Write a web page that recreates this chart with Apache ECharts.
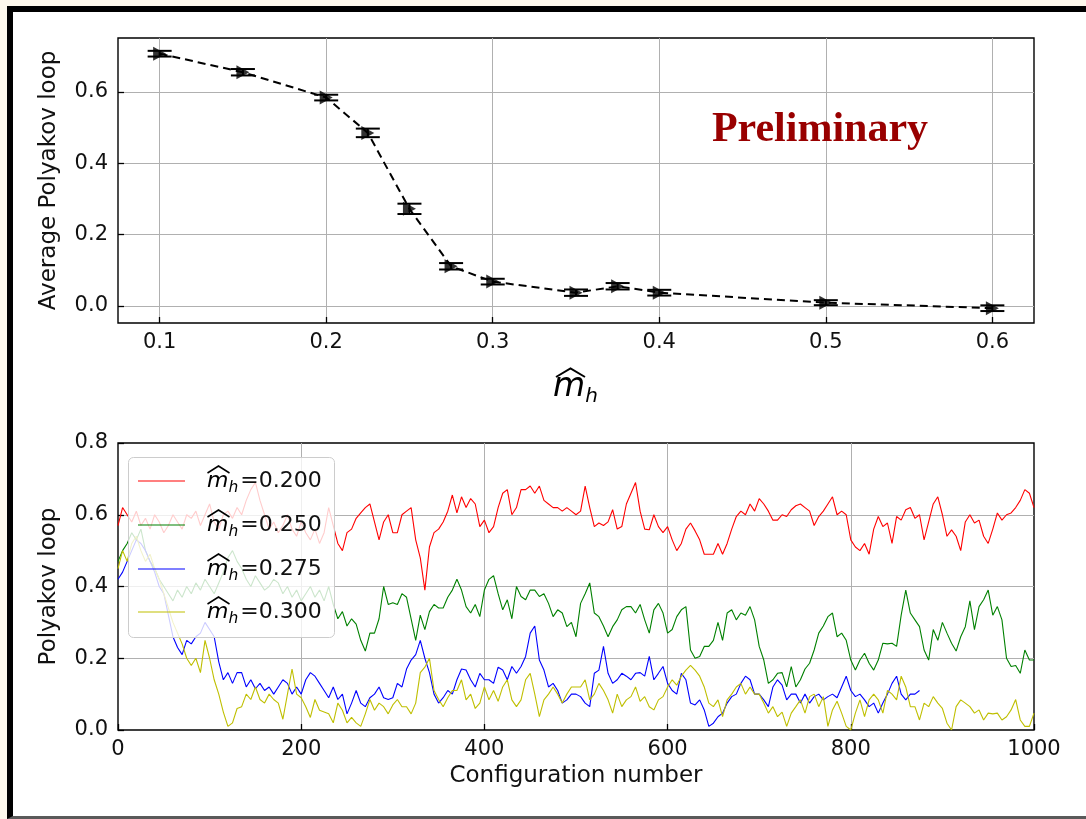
<!DOCTYPE html>
<html>
<head>
<meta charset="utf-8">
<script src="https://cdn.jsdelivr.net/npm/echarts@6/dist/echarts.min.js"></script>
<style>
  html, body { margin: 0; padding: 0; width: 1086px; height: 819px; overflow: hidden; background: #fdf8ec; }
  #frame { position: absolute; left: 7px; top: 6px; width: 1100px; height: 804px;
           border-left: 6px solid #000; border-top: 6px solid #000; border-bottom: 3px solid #5a5a5a; background: #fff; }
  #chart { position: absolute; left: 0; top: 0; width: 1086px; height: 819px; }
</style>
</head>
<body>
<div id="frame"></div>
<div id="chart"></div>
<script>
// ---- top panel: average Polyakov loop versus the Higgs mass parameter ----
const massValues = [0.1, 0.15, 0.2, 0.225, 0.25, 0.275, 0.3, 0.35, 0.375, 0.4, 0.5, 0.6];
const avgLoop    = [0.707, 0.655, 0.584, 0.485, 0.272, 0.111, 0.068, 0.037, 0.055, 0.037, 0.009, -0.0065];
const avgLoopErr = [0.008, 0.009, 0.008, 0.012, 0.0145, 0.009, 0.008, 0.009, 0.009, 0.008, 0.007, 0.008];

// ---- bottom panel: Monte Carlo histories, one value every configStep configurations ----
const configStep = 5;
const loopM200 = [
  0.57, 0.62, 0.60, 0.58, 0.61, 0.57, 0.59, 0.56, 0.60, 0.58,
  0.55, 0.57, 0.60, 0.58, 0.56, 0.60, 0.59, 0.61, 0.57, 0.60,
  0.63, 0.58, 0.56, 0.60, 0.61, 0.59, 0.62, 0.60, 0.64, 0.67,
  0.69, 0.64, 0.60, 0.56, 0.58, 0.55, 0.57, 0.60, 0.56, 0.54,
  0.58, 0.55, 0.53, 0.56, 0.52, 0.55, 0.62, 0.57, 0.52, 0.50,
  0.55, 0.56, 0.59, 0.605, 0.62, 0.63, 0.58, 0.53, 0.58, 0.60,
  0.55, 0.55, 0.60, 0.61, 0.62, 0.53, 0.48, 0.39, 0.51, 0.55,
  0.56, 0.58, 0.61, 0.655, 0.605, 0.65, 0.62, 0.645, 0.63, 0.567,
  0.585, 0.55, 0.567, 0.62, 0.66, 0.67, 0.60, 0.62, 0.67, 0.67,
  0.68, 0.66, 0.68, 0.64, 0.63, 0.62, 0.62, 0.61, 0.62, 0.61,
  0.60, 0.61, 0.68, 0.62, 0.567, 0.577, 0.57, 0.58, 0.614, 0.56,
  0.567, 0.63, 0.66, 0.69, 0.61, 0.56, 0.558, 0.60, 0.567, 0.55,
  0.567, 0.53, 0.50, 0.52, 0.56, 0.577, 0.555, 0.53, 0.49, 0.49,
  0.49, 0.52, 0.49, 0.52, 0.56, 0.595, 0.61, 0.60, 0.63, 0.61,
  0.645, 0.63, 0.61, 0.585, 0.585, 0.60, 0.595, 0.614, 0.625, 0.63,
  0.62, 0.61, 0.57, 0.595, 0.61, 0.63, 0.65, 0.60, 0.61, 0.60,
  0.53, 0.51, 0.50, 0.52, 0.49, 0.56, 0.595, 0.567, 0.577, 0.52,
  0.595, 0.585, 0.614, 0.62, 0.59, 0.60, 0.53, 0.58, 0.63, 0.65,
  0.60, 0.54, 0.558, 0.54, 0.50, 0.58, 0.60, 0.577, 0.585, 0.54,
  0.52, 0.56, 0.605, 0.585, 0.60, 0.605, 0.62, 0.64, 0.67, 0.66, 0.62
];
const loopM250 = [
  0.47, 0.50, 0.52, 0.55, 0.53, 0.56, 0.50, 0.47, 0.45, 0.42,
  0.40, 0.38, 0.36, 0.39, 0.37, 0.40, 0.38, 0.41, 0.39, 0.42,
  0.40, 0.38, 0.41, 0.44, 0.48, 0.50, 0.47, 0.45, 0.42, 0.40,
  0.43, 0.41, 0.39, 0.40, 0.42, 0.41, 0.38, 0.40, 0.37, 0.39,
  0.36, 0.38, 0.40, 0.37, 0.39, 0.36, 0.40, 0.35, 0.31, 0.33,
  0.29, 0.31, 0.295, 0.25, 0.22, 0.27, 0.27, 0.31, 0.40, 0.35,
  0.355, 0.35, 0.38, 0.37, 0.31, 0.25, 0.32, 0.28, 0.33, 0.35,
  0.34, 0.34, 0.37, 0.39, 0.42, 0.39, 0.344, 0.326, 0.35, 0.316,
  0.39, 0.42, 0.43, 0.38, 0.335, 0.363, 0.31, 0.40, 0.372, 0.363,
  0.39, 0.39, 0.372, 0.38, 0.353, 0.316, 0.335, 0.326, 0.288, 0.30,
  0.26, 0.353, 0.38, 0.41, 0.326, 0.316, 0.29, 0.26, 0.288, 0.307,
  0.335, 0.344, 0.344, 0.326, 0.35, 0.307, 0.27, 0.335, 0.353, 0.326,
  0.27, 0.28, 0.316, 0.335, 0.344, 0.223, 0.20, 0.205, 0.233, 0.233,
  0.25, 0.30, 0.25, 0.326, 0.335, 0.307, 0.326, 0.32, 0.344, 0.307,
  0.233, 0.195, 0.13, 0.14, 0.158, 0.16, 0.12, 0.177, 0.12, 0.14,
  0.17, 0.186, 0.223, 0.27, 0.29, 0.316, 0.326, 0.26, 0.27, 0.25,
  0.195, 0.167, 0.195, 0.214, 0.186, 0.167, 0.195, 0.242, 0.24, 0.242,
  0.233, 0.32, 0.39, 0.326, 0.307, 0.288, 0.223, 0.195, 0.28, 0.25,
  0.30, 0.27, 0.242, 0.22, 0.26, 0.288, 0.36, 0.28, 0.344, 0.363,
  0.39, 0.32, 0.344, 0.307, 0.20, 0.177, 0.18, 0.158, 0.223, 0.195, 0.195
];
const loopM275 = [
  0.42, 0.44, 0.47, 0.50, 0.53, 0.52, 0.50, 0.47, 0.44, 0.40,
  0.38, 0.32, 0.26, 0.23, 0.21, 0.25, 0.24, 0.26, 0.27, 0.30,
  0.28, 0.26, 0.19, 0.14, 0.16, 0.13, 0.16, 0.16, 0.12, 0.14,
  0.115, 0.13, 0.11, 0.12, 0.10, 0.12, 0.14, 0.13, 0.10, 0.12,
  0.10, 0.14, 0.16, 0.15, 0.13, 0.11, 0.09, 0.12, 0.085, 0.10,
  0.045, 0.075, 0.11, 0.075, 0.065, 0.09, 0.10, 0.12, 0.09, 0.085,
  0.09, 0.13, 0.12, 0.17, 0.195, 0.21, 0.25, 0.20, 0.16, 0.10,
  0.075, 0.09, 0.11, 0.10, 0.14, 0.17, 0.167, 0.14, 0.12, 0.158,
  0.14, 0.14, 0.13, 0.175, 0.167, 0.14, 0.177, 0.158, 0.177, 0.205,
  0.27, 0.29, 0.195, 0.167, 0.12, 0.13, 0.11, 0.075, 0.084, 0.10,
  0.10, 0.093, 0.075, 0.065, 0.158, 0.167, 0.233, 0.158, 0.13, 0.14,
  0.158, 0.15, 0.14, 0.158, 0.16, 0.15, 0.205, 0.14, 0.158, 0.177,
  0.13, 0.11, 0.10, 0.158, 0.14, 0.075, 0.07, 0.084, 0.056, 0.01,
  0.019, 0.037, 0.047, 0.075, 0.093, 0.10, 0.13, 0.15, 0.14, 0.10,
  0.10, 0.084, 0.065, 0.12, 0.14, 0.125, 0.084, 0.10, 0.10, 0.075,
  0.10, 0.075, 0.093, 0.10, 0.084, 0.093, 0.10, 0.09, 0.12, 0.15,
  0.11, 0.093, 0.10, 0.084, 0.065, 0.075, 0.047, 0.075, 0.10, 0.13,
  0.15, 0.10, 0.084, 0.10, 0.10, 0.11
];
const loopM300 = [
  0.45, 0.50, 0.47, 0.52, 0.54, 0.50, 0.47, 0.49, 0.45, 0.42,
  0.38, 0.34, 0.30, 0.27, 0.24, 0.20, 0.18, 0.20, 0.16, 0.25,
  0.20, 0.14, 0.10, 0.05, 0.01, 0.02, 0.06, 0.065, 0.10, 0.085,
  0.12, 0.085, 0.075, 0.10, 0.085, 0.075, 0.03, 0.10, 0.17, 0.10,
  0.09, 0.065, 0.035, 0.085, 0.055, 0.05, 0.045, 0.02, 0.075, 0.055,
  0.02, 0.035, 0.02, 0.01, 0.045, 0.085, 0.055, 0.075, 0.065, 0.045,
  0.07, 0.085, 0.065, 0.065, 0.045, 0.075, 0.16, 0.175, 0.20, 0.11,
  0.085, 0.065, 0.09, 0.11, 0.11, 0.14, 0.084, 0.10, 0.06, 0.075,
  0.12, 0.084, 0.11, 0.08, 0.12, 0.14, 0.084, 0.065, 0.084, 0.14,
  0.158, 0.10, 0.037, 0.084, 0.10, 0.12, 0.10, 0.075, 0.10, 0.12,
  0.12, 0.12, 0.14, 0.084, 0.10, 0.13, 0.11, 0.084, 0.047, 0.10,
  0.065, 0.084, 0.093, 0.12, 0.08, 0.093, 0.065, 0.056, 0.084, 0.093,
  0.12, 0.14, 0.125, 0.15, 0.167, 0.18, 0.167, 0.15, 0.12, 0.075,
  0.065, 0.084, 0.037, 0.084, 0.10, 0.12, 0.13, 0.10, 0.12, 0.10,
  0.10, 0.075, 0.047, 0.065, 0.037, 0.05, 0.01, 0.047, 0.065, 0.084,
  0.047, 0.093, 0.10, 0.065, 0.093, 0.01, 0.056, 0.08, 0.047, 0.01,
  0.0, 0.047, 0.084, 0.037, 0.084, 0.10, 0.084, 0.047, 0.11, 0.10,
  0.084, 0.15, 0.12, 0.065, 0.065, 0.028, 0.075, 0.065, 0.093, 0.075,
  0.06, 0.019, 0.0, 0.065, 0.084, 0.075, 0.065, 0.047, 0.056, 0.028,
  0.047, 0.045, 0.047, 0.028, 0.037, 0.056, 0.085, 0.028, 0.01, 0.01, 0.047
];
const historyValues = [loopM200, loopM250, loopM275, loopM300];
const historyMasses = ['0.200', '0.250', '0.275', '0.300'];
const historyColors = ['#ff0000', '#008000', '#0000ff', '#bfbf00'];

const FONT = 'DejaVu Sans';
const INK = '#111';

const toHistory = vals => vals.map((v, i) => [i * configStep, v]);
const isTenth = v => Math.abs(v * 10 - Math.round(v * 10)) < 1e-6;
const oneDecimal = v => (isTenth(v) ? (Math.abs(v) < 1e-9 ? 0 : v).toFixed(1) : '');

function tickAxis(extra) {
  return Object.assign({
    type: 'value',
    axisLine: { show: false, onZero: false },
    axisTick: { show: true, inside: true, length: 6, lineStyle: { color: '#000', width: 1.3 } },
    axisLabel: { fontFamily: FONT, fontSize: 21, color: INK, margin: 9 },
    splitLine: { show: true, showMinLine: false, showMaxLine: false, lineStyle: { color: '#b0b0b0', width: 1 } },
    nameTextStyle: { fontFamily: FONT, fontSize: 23, color: INK }
  }, extra);
}

// m-hat with subscript h, followed by an optional suffix
function mHatLabel(x, cy, size, subSize, subDy, hat, suffix) {
  const els = [
    { type: 'text', x: x, y: cy, z: 20,
      style: { text: 'm', fontFamily: FONT, fontStyle: 'italic', fontSize: size, fill: '#000', textVerticalAlign: 'middle' } },
    { type: 'text', x: x + 0.974 * size, y: cy + subDy, z: 20,
      style: { text: 'h', fontFamily: FONT, fontStyle: 'italic', fontSize: subSize, fill: '#000', textVerticalAlign: 'middle' } },
    { type: 'polyline', z: 20, shape: { points: hat.points }, style: { stroke: '#000', lineWidth: hat.width, fill: null } }
  ];
  if (suffix) {
    els.push({ type: 'text', x: x + 0.974 * size + 0.634 * subSize + 2, y: cy, z: 20,
      style: { text: suffix, fontFamily: FONT, fontSize: size, fill: INK, textVerticalAlign: 'middle' } });
  }
  return els;
}

const legendRows = [481, 525, 569, 612];
const legendEls = [{
  type: 'rect', z: 15,
  shape: { x: 128.5, y: 457.5, width: 206, height: 180, r: 5 },
  style: { fill: 'rgba(255,255,255,0.8)', stroke: '#cccccc', lineWidth: 1 }
}];
legendRows.forEach((y, i) => {
  legendEls.push({ type: 'line', z: 20, shape: { x1: 138, y1: y, x2: 185, y2: y },
    style: { stroke: historyColors[i], lineWidth: 1.2 } });
  legendEls.push(...mHatLabel(207, y, 22, 15.5, 6.5,
    { points: [[207.5, y - 8], [218.5, y - 15], [229.5, y - 8]], width: 1.5 },
    '=' + historyMasses[i]));
});

const axisTitle = mHatLabel(553, 387, 33, 20, 9.5,
  { points: [[556, 377], [570.5, 368.5], [585, 377]], width: 2 }, null);

const option = {
  animation: false,
  grid: [
    { left: 118, top: 38, width: 916, height: 285, show: true, borderColor: '#000', borderWidth: 1.4, backgroundColor: 'transparent' },
    { left: 118, top: 443, width: 916, height: 287, show: true, borderColor: '#000', borderWidth: 1.4, backgroundColor: 'transparent' }
  ],
  xAxis: [
    tickAxis({ gridIndex: 0, min: 0.075, max: 0.625,
      axisLabel: { fontFamily: FONT, fontSize: 21, color: INK, margin: 9, showMinLabel: false, showMaxLabel: false, formatter: oneDecimal } }),
    tickAxis({ gridIndex: 1, min: 0, max: 1000, interval: 200,
      name: 'Configuration number', nameLocation: 'middle', nameGap: 35,
      axisLabel: { fontFamily: FONT, fontSize: 21, color: INK, margin: 9, formatter: v => String(v) } })
  ],
  yAxis: [
    tickAxis({ gridIndex: 0, min: -0.048, max: 0.751,
      name: 'Average Polyakov loop', nameLocation: 'middle', nameGap: 57,
      axisLabel: { fontFamily: FONT, fontSize: 21, color: INK, margin: 10, showMinLabel: false, showMaxLabel: false, formatter: oneDecimal } }),
    tickAxis({ gridIndex: 1, min: 0, max: 0.8, interval: 0.2,
      name: 'Polyakov loop', nameLocation: 'middle', nameGap: 57,
      axisLabel: { fontFamily: FONT, fontSize: 21, color: INK, margin: 10, formatter: v => v.toFixed(1) } })
  ],
  series: [
    {
      type: 'line', xAxisIndex: 0, yAxisIndex: 0, z: 2,
      data: massValues.map((m, i) => [m, avgLoop[i]]),
      showSymbol: false, lineStyle: { color: '#000', width: 2, type: [8, 5] }
    },
    {
      type: 'custom', xAxisIndex: 0, yAxisIndex: 0, z: 3,
      data: massValues.map((m, i) => [m, avgLoop[i], avgLoopErr[i]]),
      encode: { x: 0, y: 1 },
      renderItem: (params, api) => {
        const x = api.value(0), y = api.value(1), e = api.value(2);
        const hi = api.coord([x, y + e]);
        const lo = api.coord([x, y - e]);
        const cap = 12;
        const st = { stroke: '#000', lineWidth: 2 };
        return { type: 'group', children: [
          { type: 'line', shape: { x1: hi[0], y1: hi[1], x2: lo[0], y2: lo[1] }, style: st },
          { type: 'line', shape: { x1: hi[0] - cap, y1: hi[1], x2: hi[0] + cap, y2: hi[1] }, style: st },
          { type: 'line', shape: { x1: lo[0] - cap, y1: lo[1], x2: lo[0] + cap, y2: lo[1] }, style: st }
        ] };
      }
    },
    {
      type: 'scatter', xAxisIndex: 0, yAxisIndex: 0, z: 4,
      data: massValues.map((m, i) => [m, avgLoop[i]]),
      symbol: 'triangle', symbolSize: [14, 13], symbolRotate: -90,
      itemStyle: { color: '#000' }
    },
    ...historyValues.map((vals, i) => ({
      name: 'm_h=' + historyMasses[i],
      type: 'line', xAxisIndex: 1, yAxisIndex: 1, z: 2 + i * 0.1,
      data: toHistory(vals), showSymbol: false,
      lineStyle: { color: historyColors[i], width: 1.1 }
    }))
  ],
  graphic: [
    { type: 'text', x: 820, y: 130, z: 20,
      style: { text: 'Preliminary', fontFamily: 'Liberation Serif', fontWeight: 'bold', fontSize: 42,
               fill: '#990000', textAlign: 'center', textVerticalAlign: 'middle' } },
    ...axisTitle,
    ...legendEls
  ]
};

const chart = echarts.init(document.getElementById('chart'), null, { renderer: 'canvas' });
chart.setOption(option);
</script>
</body>
</html>
